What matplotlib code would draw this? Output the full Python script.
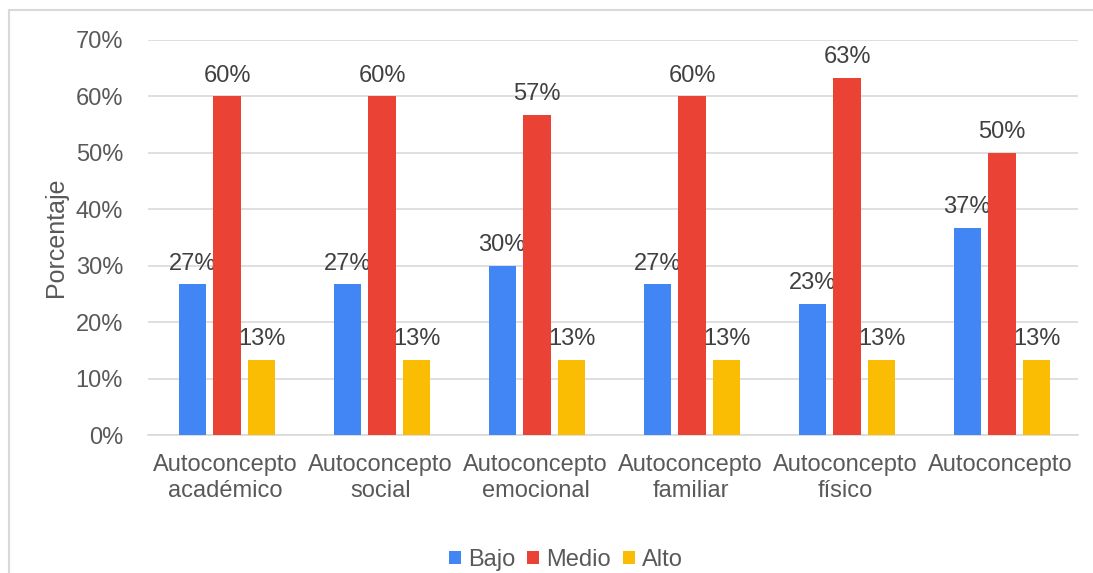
import numpy as np
import matplotlib.pyplot as plt
from matplotlib.patches import Rectangle

plt.rcParams['font.family'] = ['Liberation Sans', 'DejaVu Sans']

categories = ['Autoconcepto\nacadémico', 'Autoconcepto\nsocial', 'Autoconcepto\nemocional',
              'Autoconcepto\nfamiliar', 'Autoconcepto\nfísico', 'Autoconcepto']
series = ['Bajo', 'Medio', 'Alto']
bajo = [26.7, 26.7, 30.0, 26.7, 23.3, 36.7]
medio = [60.0, 60.0, 56.7, 60.0, 63.3, 50.0]
alto = [13.3, 13.3, 13.3, 13.3, 13.3, 13.3]
colors = ['#4285F4', '#EA4335', '#FBBC04']
textColor = '#595959'

fig = plt.figure(figsize=(10.93, 5.73), dpi=100)
ax = fig.add_axes([148 / 1093, 1 - 435 / 573, 930 / 1093, 395 / 573])

x = np.arange(len(categories))
width = 0.175
step = 0.225
for i, (name, vals) in enumerate(zip(series, [bajo, medio, alto])):
    bars = ax.bar(x + (i - 1) * step + 0.01, vals, width=width, color=colors[i], label=name, zorder=3)
    for b, v in zip(bars, vals):
        ax.annotate(f'{v:.0f}%', (b.get_x() + b.get_width() / 2, v), xytext=(0, 7),
                    textcoords='offset points', ha='center', va='bottom',
                    fontsize=17, color='#404040')

ax.set_xlim(-0.5, len(categories) - 0.5)
ax.set_ylim(0, 70)
ax.set_yticks(np.arange(0, 71, 10))
ax.set_yticklabels([f'{t}%' for t in range(0, 71, 10)])
ax.set_xticks(x)
ax.set_xticklabels(categories, linespacing=1.2)
ax.tick_params(axis='both', length=0, labelsize=17, labelcolor=textColor)
ax.tick_params(axis='y', pad=18)
ax.tick_params(axis='x', pad=14)
ax.grid(axis='y', color='#d9d9d9', linewidth=1.2, zorder=0)
for s in ['top', 'right', 'left']:
    ax.spines[s].set_visible(False)
ax.spines['bottom'].set_color('#d9d9d9')
ax.spines['bottom'].set_linewidth(1.2)
ax.set_ylabel('Porcentaje', fontsize=18, color=textColor)
ax.yaxis.set_label_coords((68 - 148) / 930, 0.5)

ax.legend(loc='center', bbox_to_anchor=(566 / 1093, (573 - 560) / 573), bbox_transform=fig.transFigure,
          ncol=3, frameon=False, fontsize=17, labelcolor=textColor, handlelength=0.5,
          handleheight=0.5, handletextpad=0.3, columnspacing=0.5)

fig.patches.append(Rectangle((9 / 1093, -0.1), 1.2, 1 - 10 / 573 + 0.1, transform=fig.transFigure,
                             fill=False, edgecolor='#d9d9d9', linewidth=1.5))

fig.savefig('out.png', dpi=100)
